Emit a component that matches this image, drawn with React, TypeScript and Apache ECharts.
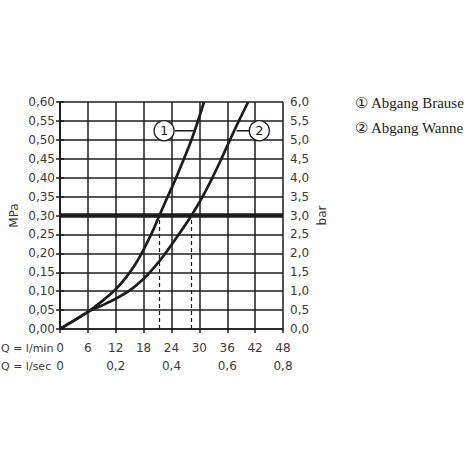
import React, { useEffect, useRef } from "react";
import * as echarts from "echarts";

// Flow (l/min) vs pressure (MPa)
const brauseQ = [0, 3, 6, 9, 12, 14, 16, 18, 20, 21.4, 23, 25.0, 28.3, 31.0];
const brauseP = [0, 0.022, 0.045, 0.073, 0.105, 0.133, 0.167, 0.21, 0.26, 0.3, 0.345, 0.4, 0.5, 0.6];
const wanneQ = [0, 3, 6, 9, 12, 15, 18, 20, 22.5, 25.4, 28.3, 30.6, 32.6, 34.6, 36.4, 38.5, 40.5];
const wanneP = [0, 0.022, 0.045, 0.062, 0.08, 0.102, 0.133, 0.159, 0.197, 0.247, 0.3, 0.348, 0.395, 0.446, 0.495, 0.55, 0.6];

const refPressure = 0.3;
const crossQ = [21.4, 28.3];

const markerLabels = ["1", "2"];
const markerQ = [22.4, 42.9];
const markerP = 0.524;
const leaderQ = [
  [24.75, 29.05],
  [38.0, 40.75],
];

const legendTexts = ["\u2460 Abgang Brause", "\u2461 Abgang Wanne"];
const rowTitles = ["Q = l/min", "Q = l/sec"];

const fmt = (v: number, d: number) => v.toFixed(d).replace(".", ",");

export default function App() {
  const ref = useRef<HTMLDivElement>(null);
  useEffect(() => {
    if (!ref.current) return;
    const chart = echarts.init(ref.current, undefined, { renderer: "svg" });
    const ink = "#1c1c1c";
    const labelColor = "#3a3a3a";
    const font = "DejaVu Sans";
    const lineStyle = { color: ink, width: 1.5 };
    chart.setOption({
      animation: false,
      backgroundColor: "#ffffff",
      grid: { left: 60, right: 187, top: 102, bottom: 141, containLabel: false },
      xAxis: [
        {
          type: "value",
          min: 0,
          max: 48,
          interval: 6,
          axisLine: { show: true, lineStyle },
          axisTick: { show: true, length: 4, lineStyle },
          splitLine: { show: true, lineStyle },
          axisLabel: {
            margin: 13,
            color: labelColor,
            fontFamily: font,
            fontSize: 12,
            formatter: (v: number) => String(v),
          },
        },
        {
          type: "value",
          position: "bottom",
          offset: 18,
          min: 0,
          max: 48,
          interval: 12,
          axisLine: { show: false },
          axisTick: { show: false },
          splitLine: { show: false },
          axisLabel: {
            margin: 13,
            color: labelColor,
            fontFamily: font,
            fontSize: 12,
            formatter: (v: number) => (v === 0 ? "0" : fmt(v / 60, 1)),
          },
        },
      ],
      yAxis: [
        {
          type: "value",
          min: 0,
          max: 0.6,
          interval: 0.05,
          name: "MPa",
          nameLocation: "middle",
          nameGap: 40,
          nameRotate: 90,
          nameTextStyle: { color: labelColor, fontFamily: font, fontSize: 12 },
          axisLine: { show: true, lineStyle },
          axisTick: { show: true, length: 4, lineStyle },
          splitLine: { show: true, lineStyle },
          axisLabel: {
            margin: 5,
            color: labelColor,
            fontFamily: font,
            fontSize: 12,
            formatter: (v: number) => fmt(v, 2),
          },
        },
        {
          type: "value",
          position: "right",
          min: 0,
          max: 6,
          interval: 0.5,
          name: "bar",
          nameLocation: "middle",
          nameGap: 33,
          nameRotate: 90,
          nameTextStyle: { color: labelColor, fontFamily: font, fontSize: 12 },
          axisLine: { show: true, lineStyle },
          axisTick: { show: true, length: 4, lineStyle },
          splitLine: { show: false },
          axisLabel: {
            margin: 7,
            color: labelColor,
            fontFamily: font,
            fontSize: 12,
            formatter: (v: number) => fmt(v, 1),
          },
        },
      ],
      graphic: [
        ...rowTitles.map((t, i) => ({
          type: "text",
          left: 1,
          top: 343 + i * 18,
          style: { text: t, fill: labelColor, font: `11px "${font}"` },
        })),
        ...legendTexts.map((t, i) => ({
          type: "text",
          left: 355,
          top: 95 + i * 25,
          style: { text: t, fill: "#222", font: '15px "Liberation Serif"' },
        })),
      ],
      series: [
        {
          type: "line",
          data: brauseQ.map((q, i) => [q, brauseP[i]]),
          smooth: 0.3,
          symbol: "none",
          lineStyle: { color: ink, width: 2.7 },
          z: 3,
          markLine: {
            silent: true,
            symbol: "none",
            label: { show: false },
            data: [
              [
                { coord: [0, refPressure] },
                { coord: [48, refPressure] },
              ],
            ],
            lineStyle: { color: ink, width: 4.5, type: "solid" },
          },
        },
        {
          type: "line",
          data: wanneQ.map((q, i) => [q, wanneP[i]]),
          smooth: 0.3,
          symbol: "none",
          lineStyle: { color: ink, width: 2.7 },
          z: 3,
          markLine: {
            silent: true,
            symbol: "none",
            label: { show: false },
            data: crossQ.map((q) => [{ coord: [q, 0] }, { coord: [q, refPressure] }]),
            lineStyle: { color: ink, width: 1.2, type: [4, 3] },
          },
        },
        ...leaderQ.map((pair) => ({
          type: "line",
          data: pair.map((q) => [q, markerP]),
          symbol: "none",
          lineStyle: { color: ink, width: 1.3 },
          z: 4,
        })),
        {
          type: "scatter",
          data: markerQ.map((q, i) => ({ value: [q, markerP], name: markerLabels[i] })),
          symbol: "circle",
          symbolSize: 20,
          itemStyle: { color: "#ffffff", borderColor: ink, borderWidth: 1.3, opacity: 1 },
          label: {
            show: true,
            position: "inside",
            formatter: (p: any) => p.name,
            color: ink,
            fontFamily: font,
            fontSize: 13,
          },
          z: 5,
        },
      ],
    });
    return () => chart.dispose();
  }, []);
  return (
    <div
      ref={ref}
      style={{ position: "fixed", left: 0, top: 0, width: 470, height: 470 }}
    />
  );
}
